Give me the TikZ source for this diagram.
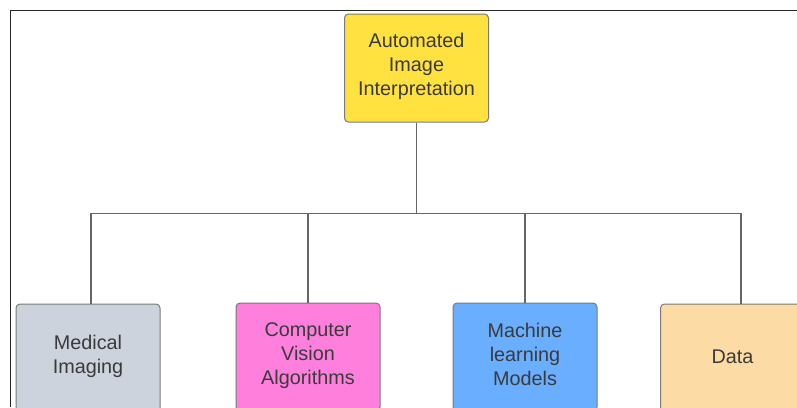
\documentclass[tikz,border=0pt]{standalone}
\usepackage{fontspec}
\setmainfont{Liberation Sans}
\begin{document}
\begin{tikzpicture}[x=1pt,y=-1pt,
  box/.style={draw=boxline, line width=1pt, rounded corners=4pt,
    minimum width=144pt, minimum height=108pt, inner sep=0pt},
  lbl/.style={text=labeltext, align=center,
    font=\fontsize{19.8}{24}\selectfont},
  conn/.style={draw=connline, line width=1.1pt}]
\definecolor{boxline}{HTML}{7A7A7A}
\definecolor{connline}{HTML}{666666}
\definecolor{labeltext}{HTML}{3A3A3A}
\definecolor{rootfill}{HTML}{FFE23F}
\definecolor{medfill}{HTML}{CDD3DC}
\definecolor{cvfill}{HTML}{FF7FDD}
\definecolor{mlfill}{HTML}{6AAEFF}
\definecolor{datafill}{HTML}{FDDBA4}
\useasboundingbox (0,0) rectangle (797,407);
% outer frame
\draw[line width=1.2pt, draw=black!85] (10.5,407) -- (10.5,10.5) -- (797,10.5);
% boxes
\node[box, fill=rootfill] (root) at (416.5,68) {};
\node[lbl] at ([yshift=2pt]root.center) {Automated\\Image\\Interpretation};
\node[box, fill=medfill] (med) at (88,358) {};
\node[lbl] at ([yshift=1.5pt]med.center) {Medical\\Imaging};
\node[box, fill=cvfill] (cv) at (308,357) {};
\node[lbl] at ([yshift=1pt]cv.center) {Computer\\Vision\\Algorithms};
\node[box, fill=mlfill] (ml) at (525,357) {};
\node[lbl] at ([yshift=3pt]ml.center) {Machine\\learning\\Models};
\node[box, fill=datafill] (data) at (732.5,358) {};
\node[lbl] at ([yshift=1pt]data.center) {Data};
% connectors
\coordinate (bus) at (416.5,213.3);
\coordinate (medtop) at ([xshift=3pt]med.north);
\coordinate (datatop) at ([xshift=8.5pt]data.north);
\draw[conn] (root.south) -- (bus);
\draw[conn] (medtop) |- (bus) -| (datatop);
\draw[conn] (cv.north) -- (cv.north |- bus);
\draw[conn] (ml.north) -- (ml.north |- bus);
\end{tikzpicture}
\end{document}
